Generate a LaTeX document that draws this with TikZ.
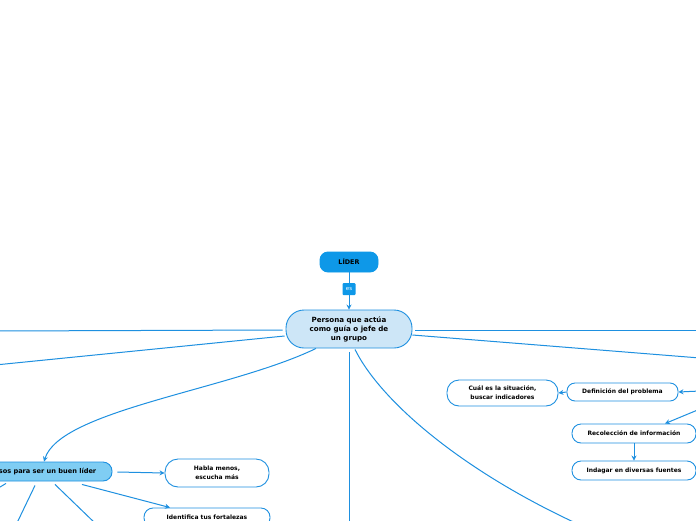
\documentclass[tikz,border=0pt]{standalone}
\usepackage{fontspec}
\setmainfont{DejaVu Sans}
\usetikzlibrary{arrows.meta,calc}
\definecolor{lnblue}{RGB}{30,144,224}
\definecolor{topfill}{RGB}{14,152,232}
\definecolor{mainfill}{RGB}{205,230,247}
\definecolor{subfill}{RGB}{127,205,243}
\tikzset{
  box/.style={draw=lnblue,line width=0.9pt,fill=white,align=center,inner sep=0pt,
    font=\fontsize{6}{8.8}\selectfont\bfseries},
  conn/.style={draw=lnblue,line width=1pt},
  arr/.style={conn,-{Stealth[length=5pt,width=5pt]}},
}
\begin{document}
\begin{tikzpicture}[x=1pt,y=-1pt]
\useasboundingbox (0,0) rectangle (696,520);
\clip (0,0) rectangle (696,520);
\fill[white] (0,0) rectangle (696,520);

% nodes
\node[box,fill=topfill,draw=topfill,minimum width=58pt,minimum height=20pt,rounded corners=8pt,
  font=\fontsize{6.4}{8}\selectfont\bfseries] (lider) at (349,262) {LÍDER};
\node[fill=topfill,text=white,minimum width=13pt,minimum height=12pt,inner sep=0pt,rounded corners=1pt,
  font=\fontsize{5.5}{6}\selectfont] (es) at (349,289) {es};
\node[box,fill=mainfill,minimum width=126pt,minimum height=38pt,rounded corners=18pt,
  font=\fontsize{7.1}{9}\selectfont\bfseries] (persona) at (349,329) {Persona que actúa\\como guía o jefe de\\un grupo};
\node[box,fill=subfill,minimum width=138pt,minimum height=19pt,rounded corners=9pt,
  font=\fontsize{6.6}{8}\selectfont\bfseries] (pasos) at (43,471.5) {Pasos para ser un buen líder};
\node[box,minimum width=104pt,minimum height=28pt,rounded corners=13pt] (habla) at (217,473) {Habla menos,\\escucha más};
\node[box,minimum width=126pt,minimum height=19pt,rounded corners=9pt] (identifica) at (207,517.5) {Identifica tus fortalezas};
\node[box,minimum width=111pt,minimum height=26pt,rounded corners=12pt] (cual) at (502.5,393) {Cuál es la situación,\\buscar indicadores};
\node[box,minimum width=111pt,minimum height=18pt,rounded corners=8pt] (definicion) at (622.5,392) {Definición del problema};
\node[box,minimum width=124pt,minimum height=19pt,rounded corners=9pt] (recoleccion) at (634,433.5) {Recolección de información};
\node[box,minimum width=124pt,minimum height=19pt,rounded corners=9pt] (indagar) at (634,470.5) {Indagar en diversas fuentes};

% off-canvas ends
\coordinate (offA) at (-5,331);
\coordinate (offB) at (-5,365);
\coordinate (offC) at (349,525);
\coordinate (offD) at (580,525);
\coordinate (offE) at (700,330);
\coordinate (offF) at (700,358);
\coordinate (offG) at (700,391);
\coordinate (offH) at (700,409);
\coordinate (offI) at (16,525);
\coordinate (offJ) at (97,525);
\coordinate (offK) at (-5,490);

% connectors
\draw[conn] (lider.south) -- (es.north);
\draw[arr] (es.south) -- (persona.north);
\draw[conn] ($(persona.west)+(-3,1)$) -- (offA);
\draw[conn] ($(persona.west)+(-1,7)$) -- (offB);
\draw[arr] ($(persona.south)+(-33,0)$) .. controls (230,390) and (60,410) .. ($(pasos.north)+(1,0)$);
\draw[conn] ($(persona.south)+(0,4)$) -- (offC);
\draw[conn] ($(persona.south)+(6,1)$) .. controls (380,400) and (460,470) .. (offD);
\draw[conn] ($(persona.east)+(3,1)$) -- (offE);
\draw[conn] ($(persona.east)+(0,6)$) -- (offF);

\draw[arr] ($(pasos.east)+(5,0.5)$) -- (habla.west);
\draw[arr] ($(pasos.south)+(39,3)$) -- ($(identifica.north)+(-37,0)$);
\draw[conn] ($(pasos.south)+(-8,4)$) -- (offI);
\draw[conn] ($(pasos.south)+(12,3)$) -- (offJ);
\draw[conn] ($(pasos.south)+(-37,2)$) -- (offK);

\draw[arr] (offG) -- (definicion.east);
\draw[arr] (definicion.west) -- (cual.east);
\draw[arr] (offH) -- ($(recoleccion.north)+(31,0)$);
\draw[arr] (recoleccion.south) -- (indagar.north);
\end{tikzpicture}
\end{document}
